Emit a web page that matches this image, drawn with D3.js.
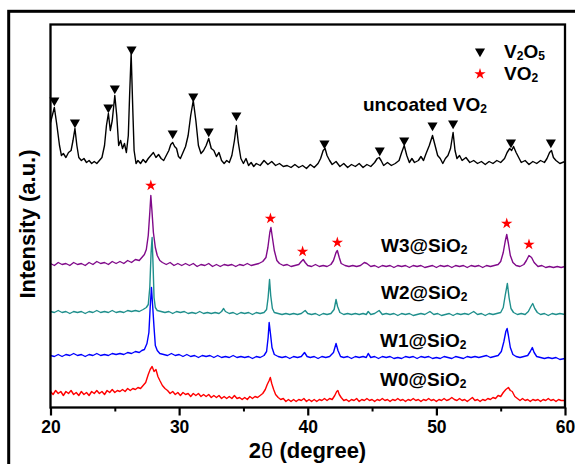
<!DOCTYPE html>
<html><head><meta charset="utf-8">
<script src="https://cdn.jsdelivr.net/npm/d3@7"></script>
<style>
html,body{margin:0;padding:0;background:#fff;}
svg{display:block;font-family:"Liberation Sans",Arial,sans-serif;font-weight:bold;}
</style></head>
<body><svg id="chart" width="575" height="464"></svg>
<script>
// ---------- data (2θ in degrees, intensity in a.u.) ----------
const xTicks = [20, 30, 40, 50, 60];
const xMinorTicks = [25, 35, 45, 55];
// "_" marks the next character as a subscript
const seriesNames = ["uncoated VO_2", "W3@SiO_2", "W2@SiO_2", "W1@SiO_2", "W0@SiO_2"];
const seriesColors = ["#000000", "#800a8a", "#1f8f8c", "#0000ff", "#ff0000"];
const legendItems = ["V_2O_5", "VO_2"];

const uncoated = [[20.0,285],[20.3,300],[20.5,282],[20.7,262],[20.85,252],[21.0,254],[21.2,250],[21.4,255],[21.6,257],[21.75,267],[21.9,279],[22.05,262],[22.2,250],[22.4,247],[22.6,249],[22.8,245],[23.0,247],[23.2,244],[23.4,246],[23.6,244],[23.8,247],[24.0,250],[24.2,262],[24.35,282],[24.5,294],[24.65,277],[24.8,287],[25.0,312],[25.15,292],[25.3,262],[25.45,267],[25.6,259],[25.75,264],[25.9,255],[26.05,272],[26.15,312],[26.27,354],[26.4,297],[26.5,257],[26.65,244],[26.8,247],[27.0,244],[27.2,248],[27.4,245],[27.6,249],[27.8,252],[28.0,255],[28.2,250],[28.4,253],[28.6,249],[28.8,247],[29.0,252],[29.2,257],[29.35,263],[29.5,265],[29.65,261],[29.8,259],[29.95,251],[30.1,249],[30.3,255],[30.5,261],[30.7,272],[30.9,292],[31.1,307],[31.3,287],[31.5,262],[31.7,254],[31.9,257],[32.1,262],[32.3,269],[32.5,259],[32.7,257],[32.9,251],[33.1,255],[33.3,247],[33.5,244],[33.7,247],[33.9,245],[34.1,252],[34.3,267],[34.45,282],[34.6,265],[34.8,249],[35.0,244],[35.2,249],[35.4,242],[35.6,245],[35.8,241],[36.0,244],[36.3,242],[36.6,247],[36.9,243],[37.2,246],[37.5,242],[37.8,244],[38.1,241],[38.4,242],[38.7,240],[39.0,243],[39.3,240],[39.6,242],[39.9,239],[40.2,243],[40.5,240],[40.8,244],[41.0,249],[41.2,257],[41.35,259],[41.5,252],[41.7,247],[41.9,243],[42.2,246],[42.5,241],[42.8,244],[43.1,240],[43.4,243],[43.7,241],[44.0,244],[44.3,240],[44.6,243],[44.9,241],[45.2,245],[45.4,249],[45.55,250],[45.7,247],[45.9,242],[46.2,245],[46.5,242],[46.8,244],[47.1,247],[47.3,255],[47.5,262],[47.7,252],[47.9,245],[48.1,249],[48.3,245],[48.6,247],[48.8,251],[49.0,247],[49.2,254],[49.45,262],[49.7,272],[49.9,262],[50.1,252],[50.3,249],[50.5,244],[50.7,249],[50.9,252],[51.1,259],[51.3,275],[51.45,257],[51.6,249],[51.8,252],[52.0,247],[52.3,250],[52.6,245],[52.9,247],[53.2,244],[53.5,246],[53.8,243],[54.1,246],[54.4,244],[54.7,247],[55.0,245],[55.3,249],[55.5,255],[55.7,259],[55.85,257],[56.0,261],[56.2,255],[56.4,250],[56.6,245],[56.9,247],[57.2,243],[57.5,246],[57.8,244],[58.1,247],[58.4,245],[58.6,249],[58.8,255],[58.95,257],[59.1,250],[59.3,247],[59.6,244],[60.0,246]];

const w3 = [[20.0,144],[20.3,142],[20.6,145],[20.9,143],[21.2,144],[21.5,142],[21.8,145],[22.1,143],[22.4,144],[22.7,142],[23.0,145],[23.3,143],[23.6,146],[23.9,144],[24.2,145],[24.5,143],[24.8,146],[25.1,144],[25.4,146],[25.7,144],[26.0,147],[26.3,145],[26.6,148],[26.9,147],[27.1,150],[27.3,153],[27.45,158],[27.6,172],[27.72,195],[27.8,212],[27.88,198],[28.0,175],[28.15,160],[28.3,152],[28.5,147],[28.7,145],[29.0,143],[29.3,145],[29.6,142],[29.9,144],[30.2,142],[30.5,144],[30.8,142],[31.1,144],[31.4,141],[31.7,143],[32.0,142],[32.3,144],[32.6,141],[32.9,143],[33.2,141],[33.5,143],[33.8,142],[34.1,143],[34.4,141],[34.7,143],[35.0,142],[35.3,144],[35.6,142],[35.9,143],[36.2,144],[36.5,146],[36.75,150],[36.9,160],[37.05,175],[37.14,180],[37.25,170],[37.4,157],[37.6,147],[37.8,144],[38.1,142],[38.4,143],[38.7,141],[39.0,142],[39.3,143],[39.5,146],[39.65,148],[39.8,145],[40.0,142],[40.3,141],[40.6,143],[40.9,141],[41.2,142],[41.5,141],[41.8,143],[42.0,147],[42.2,155],[42.3,157],[42.45,150],[42.6,144],[42.9,142],[43.2,141],[43.5,142],[43.8,141],[44.1,142],[44.4,145],[44.6,144],[44.9,141],[45.2,142],[45.5,140],[45.8,142],[46.1,141],[46.4,142],[46.7,140],[47.0,142],[47.3,141],[47.6,142],[47.9,140],[48.2,142],[48.5,141],[48.8,142],[49.1,140],[49.4,141],[49.7,142],[50.0,140],[50.3,142],[50.6,141],[50.9,142],[51.2,140],[51.5,142],[51.8,141],[52.1,142],[52.4,140],[52.7,142],[53.0,141],[53.3,142],[53.6,140],[53.9,142],[54.2,141],[54.5,142],[54.8,143],[55.0,146],[55.2,155],[55.35,166],[55.47,173],[55.6,164],[55.75,152],[55.95,145],[56.2,142],[56.5,141],[56.8,143],[57.0,147],[57.2,152],[57.4,150],[57.6,145],[57.9,141],[58.2,142],[58.5,140],[58.8,141],[59.1,140],[59.4,141],[59.7,140],[60.0,141]];

const w2 = [[20.0,96],[20.3,95],[20.6,97],[20.9,95],[21.2,96],[21.5,94],[21.8,96],[22.1,95],[22.4,96],[22.7,94],[23.0,96],[23.3,95],[23.6,97],[23.9,95],[24.2,96],[24.5,95],[24.8,97],[25.1,95],[25.4,96],[25.7,95],[26.0,97],[26.3,96],[26.6,97],[26.9,96],[27.2,98],[27.45,100],[27.6,103],[27.72,120],[27.82,155],[27.9,170],[27.98,140],[28.05,110],[28.15,100],[28.3,97],[28.6,96],[28.9,95],[29.2,96],[29.5,94],[29.8,96],[30.1,95],[30.4,96],[30.7,94],[31.0,95],[31.3,94],[31.6,96],[31.9,94],[32.2,95],[32.5,94],[32.8,95],[33.1,94],[33.3,96],[33.46,99],[33.6,96],[33.9,94],[34.2,95],[34.5,93],[34.8,95],[35.1,94],[35.4,95],[35.7,93],[36.0,95],[36.3,94],[36.6,95],[36.8,98],[36.92,110],[37.03,128],[37.12,112],[37.25,99],[37.4,95],[37.7,94],[38.0,93],[38.3,94],[38.6,93],[38.9,94],[39.2,93],[39.5,94],[39.8,97],[40.0,94],[40.3,93],[40.6,94],[40.9,92],[41.2,94],[41.5,93],[41.8,94],[42.05,98],[42.2,108],[42.32,101],[42.5,95],[42.8,93],[43.1,94],[43.4,93],[43.7,94],[44.0,93],[44.3,94],[44.55,93],[44.7,96],[44.9,93],[45.2,94],[45.55,97],[45.8,93],[46.1,94],[46.4,93],[46.7,94],[47.0,92],[47.3,94],[47.6,93],[47.9,94],[48.2,92],[48.5,93],[48.8,94],[49.1,93],[49.5,96],[49.8,93],[50.1,94],[50.4,92],[50.7,93],[51.0,94],[51.3,92],[51.6,94],[51.9,93],[52.2,94],[52.5,93],[52.9,96],[53.2,93],[53.5,94],[53.8,92],[54.1,94],[54.4,93],[54.7,94],[55.0,95],[55.2,100],[55.35,112],[55.52,124],[55.65,110],[55.8,99],[56.0,95],[56.3,93],[56.6,94],[56.9,93],[57.15,96],[57.35,101],[57.49,104],[57.65,99],[57.85,95],[58.1,93],[58.4,94],[58.7,92],[59.0,94],[59.3,93],[59.6,94],[60.0,93]];

const w1 = [[20.0,52],[20.3,51],[20.6,53],[20.9,51],[21.2,53],[21.5,52],[21.8,54],[22.1,52],[22.4,53],[22.7,51],[23.0,53],[23.3,52],[23.6,54],[23.9,52],[24.2,53],[24.5,52],[24.8,54],[25.1,53],[25.4,54],[25.7,53],[26.0,55],[26.3,54],[26.6,56],[26.9,55],[27.1,57],[27.3,58],[27.5,64],[27.65,75],[27.75,100],[27.85,120],[27.95,100],[28.05,80],[28.15,62],[28.3,57],[28.5,54],[28.8,53],[29.1,52],[29.4,54],[29.7,52],[30.0,53],[30.3,51],[30.6,53],[30.9,51],[31.2,52],[31.5,50],[31.8,52],[32.1,51],[32.4,52],[32.7,50],[33.0,52],[33.3,50],[33.6,51],[33.9,50],[34.2,52],[34.5,50],[34.8,51],[35.1,50],[35.4,51],[35.7,49],[36.0,51],[36.3,50],[36.6,52],[36.8,56],[36.92,70],[37.0,85],[37.1,74],[37.22,60],[37.4,53],[37.7,51],[38.0,50],[38.3,51],[38.6,49],[38.9,51],[39.2,50],[39.5,51],[39.75,55],[39.95,51],[40.2,50],[40.5,51],[40.8,49],[41.1,51],[41.4,50],[41.7,51],[42.0,55],[42.2,64],[42.35,57],[42.55,51],[42.8,50],[43.1,51],[43.4,49],[43.7,51],[44.0,50],[44.3,51],[44.55,50],[44.7,54],[44.9,50],[45.2,51],[45.5,49],[45.8,51],[46.1,50],[46.4,51],[46.7,49],[47.0,50],[47.3,49],[47.6,51],[47.9,50],[48.2,51],[48.5,49],[48.8,51],[49.1,50],[49.4,51],[49.7,49],[50.0,50],[50.3,49],[50.6,51],[50.9,50],[51.2,49],[51.5,51],[51.8,50],[52.1,49],[52.4,51],[52.7,50],[53.0,51],[53.3,50],[53.6,51],[53.9,52],[54.2,50],[54.5,51],[54.8,52],[55.05,56],[55.25,66],[55.4,76],[55.5,79],[55.6,72],[55.75,60],[55.95,53],[56.2,51],[56.5,50],[56.8,51],[57.1,52],[57.3,56],[57.46,60],[57.6,55],[57.8,51],[58.1,50],[58.4,49],[58.7,50],[59.0,49],[59.3,50],[59.6,48],[60.0,49]];

const w0 = [[20.0,16],[20.2,13],[20.4,17],[20.6,14],[20.8,16],[21.0,12],[21.2,16],[21.4,14],[21.6,17],[21.8,13],[22.0,15],[22.2,12],[22.4,16],[22.6,13],[22.8,15],[23.0,12],[23.2,16],[23.4,14],[23.6,17],[23.8,14],[24.0,16],[24.2,13],[24.4,17],[24.6,15],[24.8,18],[25.0,15],[25.2,17],[25.4,16],[25.6,18],[25.8,16],[26.0,19],[26.2,17],[26.4,19],[26.6,18],[26.8,20],[27.0,19],[27.2,22],[27.4,25],[27.6,33],[27.75,38],[27.9,41],[28.05,36],[28.2,38],[28.35,31],[28.5,27],[28.7,22],[28.9,19],[29.1,17],[29.3,14],[29.5,16],[29.7,13],[29.9,15],[30.1,12],[30.3,15],[30.5,13],[30.7,14],[30.9,11],[31.1,14],[31.3,12],[31.5,14],[31.7,11],[31.9,13],[32.1,11],[32.3,13],[32.5,10],[32.7,12],[32.9,10],[33.1,12],[33.3,9],[33.5,11],[33.7,9],[33.9,11],[34.1,9],[34.3,12],[34.5,9],[34.7,10],[34.9,8],[35.1,10],[35.3,8],[35.5,11],[35.7,9],[35.9,11],[36.1,10],[36.3,12],[36.5,14],[36.7,18],[36.85,23],[37.0,27],[37.09,30],[37.2,24],[37.35,18],[37.5,13],[37.7,10],[37.9,8],[38.1,9],[38.3,6],[38.5,8],[38.7,6],[38.9,8],[39.1,6],[39.3,8],[39.5,7],[39.7,9],[39.9,6],[40.1,8],[40.3,6],[40.5,8],[40.7,6],[40.9,8],[41.1,7],[41.3,9],[41.5,7],[41.7,9],[41.9,8],[42.1,12],[42.25,16],[42.34,17],[42.45,13],[42.6,10],[42.8,7],[43.0,8],[43.2,6],[43.4,8],[43.6,7],[43.8,9],[44.0,6],[44.2,8],[44.4,7],[44.6,9],[44.8,7],[45.0,8],[45.2,6],[45.4,8],[45.6,7],[45.8,9],[46.0,7],[46.2,8],[46.4,6],[46.6,8],[46.8,7],[47.0,9],[47.2,7],[47.4,8],[47.6,6],[47.8,8],[48.0,7],[48.2,9],[48.4,7],[48.6,8],[48.8,6],[49.0,8],[49.2,7],[49.4,9],[49.6,7],[49.8,8],[50.0,6],[50.2,8],[50.4,7],[50.6,9],[50.8,7],[51.0,8],[51.2,10],[51.4,8],[51.6,7],[51.8,9],[52.0,7],[52.2,8],[52.4,6],[52.6,8],[52.8,10],[53.0,7],[53.2,8],[53.4,6],[53.6,8],[53.8,7],[54.0,9],[54.2,8],[54.4,10],[54.6,9],[54.8,12],[55.0,11],[55.2,15],[55.4,18],[55.6,20],[55.75,17],[55.9,16],[56.1,11],[56.3,9],[56.5,7],[56.7,9],[56.9,7],[57.1,8],[57.3,6],[57.5,8],[57.7,7],[57.9,8],[58.1,6],[58.3,8],[58.5,7],[58.7,9],[58.9,7],[59.1,8],[59.3,6],[59.5,8],[59.7,7],[60.0,7]];

// phase markers: V2O5 (triangles) on the uncoated pattern, VO2 (stars) on W3@SiO2
const v2o5Marks = [[20.3,307],[21.9,285],[24.5,300],[25.0,319],[26.3,358],[29.5,274],[31.1,311],[32.3,276],[34.45,292],[41.3,264],[45.6,257],[47.5,267],[49.7,282],[51.3,284],[55.8,265],[58.9,265]];
const vo2Marks = [[27.8,222],[37.1,189],[39.6,156],[42.3,165],[55.47,184],[57.2,163]];

// ---------- layout ----------
const svg = d3.select("#chart");
const L = 50.5, R = 565, T = 24.5, B = 407.5;
const x = d3.scaleLinear().domain([20, 60]).range([L, R]);
const y = d3.scaleLinear().domain([0, 383]).range([B, T]);

// outer figure frame (clipped by window on right/bottom)
svg.append("rect").attr("x", 8.7).attr("y", 11.3).attr("width", 700).attr("height", 600)
  .attr("fill", "none").attr("stroke", "#000").attr("stroke-width", 3);

// traces
const line = d3.line().x(d => x(d[0])).y(d => y(d[1]));
const allSeries = [uncoated, w3, w2, w1, w0];
allSeries.forEach((s, i) => {
  svg.append("path").datum(s).attr("d", line).attr("fill", "none")
    .attr("stroke", seriesColors[i]).attr("stroke-width", 1.4).attr("stroke-linejoin", "round");
});

// markers
svg.append("g").selectAll("path").data(v2o5Marks).join("path")
  .attr("d", d3.symbol(d3.symbolTriangle, 44))
  .attr("transform", d => `translate(${x(d[0])},${y(d[1])}) rotate(180)`)
  .attr("fill", "#000");
svg.append("g").selectAll("path").data(vo2Marks).join("path")
  .attr("d", d3.symbol(d3.symbolStar, 40))
  .attr("transform", d => `translate(${x(d[0])},${y(d[1])})`)
  .attr("fill", "#ff0000");

// plot frame
svg.append("rect").attr("x", L).attr("y", T).attr("width", R - L).attr("height", B - T)
  .attr("fill", "none").attr("stroke", "#000").attr("stroke-width", 2.3);

// axes
const gx = svg.append("g").attr("transform", `translate(0,${B})`)
  .call(d3.axisBottom(x).tickValues(xTicks).tickSize(8).tickFormat(d3.format("d")));
gx.select(".domain").remove();
gx.selectAll("line").attr("stroke-width", 2.2);
gx.selectAll("text").attr("y", 25.5).attr("dy", 0).attr("fill", "#000")
  .style("font-size", "17.5px").style("font-weight", "bold").style("font-family", '"Liberation Sans",Arial,sans-serif');
const gm = svg.append("g").attr("transform", `translate(0,${B})`)
  .call(d3.axisBottom(x).tickValues(xMinorTicks).tickSize(4).tickFormat(""));
gm.select(".domain").remove();
gm.selectAll("line").attr("stroke-width", 2);

// axis titles
const xt = svg.append("text").attr("x", 307.5).attr("y", 457.5).attr("text-anchor", "middle")
  .style("font-size", "22px");
xt.append("tspan").text("2");
xt.append("tspan").style("font-weight", "normal").text("θ");
xt.append("tspan").text(" (degree)");
svg.append("text").attr("transform", "translate(35,224) rotate(-90)").attr("text-anchor", "middle")
  .style("font-size", "22px").text("Intensity (a.u.)");

// text with subscripts ("_" before a character makes it a subscript)
function subText(g, str, px, py, size) {
  const t = g.append("text").attr("x", px).attr("y", py).style("font-size", size + "px");
  let buf = "", lowered = false;
  const flush = () => {
    if (buf) { const ts = t.append("tspan").text(buf); if (lowered) { ts.attr("dy", -2); lowered = false; } buf = ""; }
  };
  for (let i = 0; i < str.length; i++) {
    if (str[i] === "_" && i + 1 < str.length) {
      flush();
      const ts = t.append("tspan").style("font-size", Math.round(size * 0.65) + "px").text(str[i + 1]);
      ts.attr("dy", lowered ? 0 : 2);
      lowered = true;
      i++;
    } else {
      buf += str[i];
    }
  }
  flush();
  return t;
}

// series labels
const labelPos = [[363, 111], [381, 251.7], [381, 299.3], [380, 346.7], [380, 386]];
seriesNames.forEach((n, i) => subText(svg, n, labelPos[i][0], labelPos[i][1], 19));

// legend
svg.append("path").attr("d", d3.symbol(d3.symbolTriangle, 44))
  .attr("transform", "translate(480,51.5) rotate(180)").attr("fill", "#000");
svg.append("path").attr("d", d3.symbol(d3.symbolStar, 40))
  .attr("transform", "translate(480,74)").attr("fill", "#ff0000");
subText(svg, legendItems[0], 504, 57.7, 19);
subText(svg, legendItems[1], 504, 80, 19);
</script></body></html>
